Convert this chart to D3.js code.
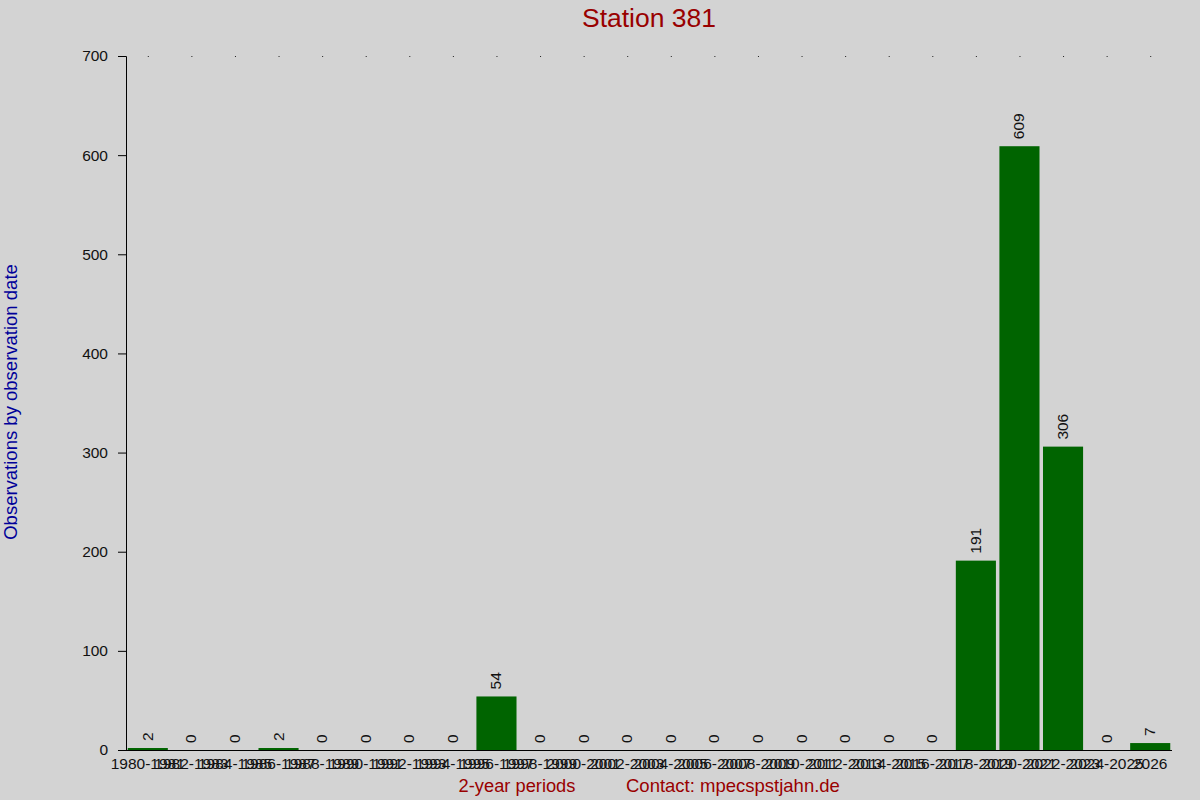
<!DOCTYPE html>
<html>
<head>
<meta charset="utf-8">
<script src="https://cdn.jsdelivr.net/npm/d3@7"></script>
<style>
  body { margin: 0; background: #d3d3d3; }
  svg { display: block; font-family: "Liberation Sans", Arial, sans-serif; }
</style>
</head>
<body>
<svg id="chart" width="1200" height="800"></svg>
<script>
// data
const periods = [
  "1980-1981", "1982-1983", "1984-1985", "1986-1987", "1988-1989", "1990-1991",
  "1992-1993", "1994-1995", "1996-1997", "1998-1999", "2000-2001", "2002-2003",
  "2004-2005", "2006-2007", "2008-2009", "2010-2011", "2012-2013", "2014-2015",
  "2016-2017", "2018-2019", "2020-2021", "2022-2023", "2024-2025", "2026"
];
const counts = [2, 0, 0, 2, 0, 0, 0, 0, 54, 0, 0, 0, 0, 0, 0, 0, 0, 0, 0, 191, 609, 306, 0, 7];
const yTicks = [0, 100, 200, 300, 400, 500, 600, 700];

const margin = { top: 56, right: 28, bottom: 50, left: 126 };
const width = 1200, height = 800;

const svg = d3.select("#chart");
svg.append("rect").attr("width", width).attr("height", height).attr("fill", "#d3d3d3");

const xscale = d3.scaleBand()
  .domain(periods)
  .range([margin.left, width - margin.right])
  .paddingInner(0.08)
  .paddingOuter(0.04);

const yscale = d3.scaleLinear()
  .domain([0, 700])
  .range([height - margin.bottom, margin.top]);

// bars
svg.append("g")
  .selectAll("rect")
  .data(counts)
  .enter()
  .append("rect")
  .attr("x", (d, i) => xscale(periods[i]))
  .attr("y", d => yscale(d))
  .attr("width", xscale.bandwidth())
  .attr("height", d => yscale(0) - yscale(d))
  .attr("fill", "#006400");

// value labels
svg.append("g")
  .selectAll("text")
  .data(counts)
  .enter()
  .append("text")
  .attr("transform", (d, i) => {
    const cx = xscale(periods[i]) + xscale.bandwidth() / 2 + 5;
    return `translate(${cx},${yscale(d) - 7}) rotate(-90)`;
  })
  .attr("font-size", 15.5)
  .attr("fill", "#111")
  .text(d => d);

// little dots along the top
svg.append("g")
  .selectAll("rect")
  .data(periods)
  .enter()
  .append("rect")
  .attr("x", d => xscale(d) + xscale.bandwidth() / 2)
  .attr("y", margin.top)
  .attr("width", 1)
  .attr("height", 1)
  .attr("fill", "#222");

// y axis
const yAxis = d3.axisLeft(yscale).tickValues(yTicks).tickSize(8).tickPadding(10);
const gy = svg.append("g")
  .attr("transform", `translate(${margin.left},0)`)
  .call(yAxis);
gy.select(".domain").attr("stroke", "#000");
gy.selectAll("text").attr("font-size", 15.5).attr("fill", "#111").attr("font-family", "Liberation Sans, Arial, sans-serif");

// x axis
const xAxis = d3.axisBottom(xscale).tickSize(0).tickPadding(8);
const gx = svg.append("g")
  .attr("transform", `translate(0,${height - margin.bottom})`)
  .call(xAxis);
gx.select(".domain").attr("d", `M${margin.left},0.5H${width - margin.right}`).attr("stroke", "#000");
gx.selectAll("text").attr("font-size", 15.5).attr("fill", "#111").attr("font-family", "Liberation Sans, Arial, sans-serif");

// titles
svg.append("text")
  .attr("x", 649).attr("y", 27)
  .attr("text-anchor", "middle")
  .attr("font-size", 26.5)
  .attr("fill", "#990000")
  .text("Station 381");

svg.append("text")
  .attr("transform", "translate(17,402) rotate(-90)")
  .attr("text-anchor", "middle")
  .attr("font-size", 18.5)
  .attr("fill", "#000099")
  .text("Observations by observation date");

svg.append("text")
  .attr("x", 517).attr("y", 792)
  .attr("text-anchor", "middle")
  .attr("font-size", 18.3)
  .attr("fill", "#990000")
  .text("2-year periods");

svg.append("text")
  .attr("x", 626).attr("y", 792)
  .attr("font-size", 18.5)
  .attr("fill", "#990000")
  .text("Contact: mpecspstjahn.de");
</script>
</body>
</html>
